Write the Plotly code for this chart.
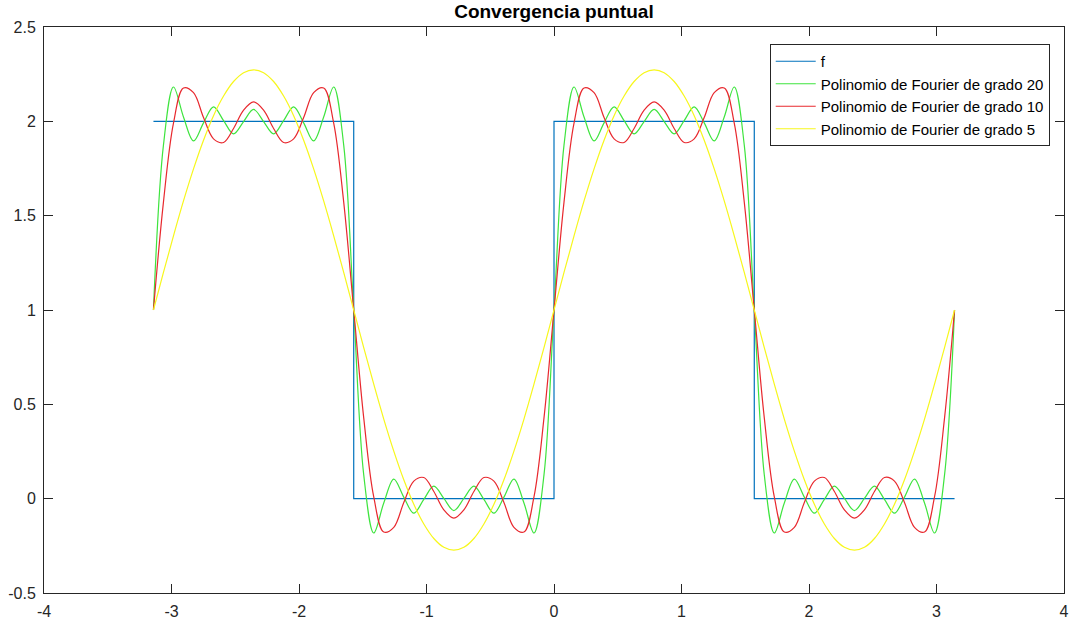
import plotly.graph_objects as go

# Sample positions (x) shared by the Fourier polynomials
x_vals = [-3.1416, -3.0631, -2.9845, -2.9060, -2.8274, -2.7489, -2.6704, -2.5918, -2.5133, -2.4347,
          -2.3562, -2.2777, -2.1991, -2.1206, -2.0420, -1.9635, -1.8850, -1.8064, -1.7279, -1.6493,
          -1.5708, -1.4923, -1.4137, -1.3352, -1.2566, -1.1781, -1.0996, -1.0210, -0.9425, -0.8639,
          -0.7854, -0.7069, -0.6283, -0.5498, -0.4712, -0.3927, -0.3142, -0.2356, -0.1571, -0.0785,
          0.0,
          0.0785, 0.1571, 0.2356, 0.3142, 0.3927, 0.4712, 0.5498, 0.6283, 0.7069, 0.7854,
          0.8639, 0.9425, 1.0210, 1.0996, 1.1781, 1.2566, 1.3352, 1.4137, 1.4923, 1.5708,
          1.6493, 1.7279, 1.8064, 1.8850, 1.9635, 2.0420, 2.1206, 2.1991, 2.2777, 2.3562,
          2.4347, 2.5133, 2.5918, 2.6704, 2.7489, 2.8274, 2.9060, 2.9845, 3.0631, 3.1416]

# f (square wave)
f_x = [-3.1416, -1.5708, -1.5708, 0.0, 0.0, 1.5708, 1.5708, 3.1416]
f_y = [2, 2, 0, 0, 2, 2, 0, 0]

# Fourier polynomial of degree 20
grado20 = [1.0, 1.874, 2.182, 2.023, 1.896, 1.992, 2.077, 2.004, 1.934, 1.999,
           2.063, 1.999, 1.934, 2.004, 2.077, 1.992, 1.896, 2.023, 2.182, 1.874,
           1.0, 0.126, -0.182, -0.023, 0.104, 0.008, -0.077, -0.004, 0.066, 0.001,
           -0.063, 0.001, 0.066, -0.004, -0.077, 0.008, 0.104, -0.023, -0.182, 0.126,
           1.0, 1.874, 2.182, 2.023, 1.896, 1.992, 2.077, 2.004, 1.934, 1.999,
           2.063, 1.999, 1.934, 2.004, 2.077, 1.992, 1.896, 2.023, 2.182, 1.874,
           1.0, 0.126, -0.182, -0.023, 0.104, 0.008, -0.077, -0.004, 0.066, 0.001,
           -0.063, 0.001, 0.066, -0.004, -0.077, 0.008, 0.104, -0.023, -0.182, 0.126,
           1.0]

# Fourier polynomial of degree 10
grado10 = [1.0, 1.572, 1.991, 2.177, 2.152, 2.020, 1.907, 1.888, 1.962, 2.059,
           2.103, 2.059, 1.962, 1.888, 1.907, 2.020, 2.152, 2.177, 1.991, 1.572,
           1.0, 0.428, 0.009, -0.177, -0.152, -0.020, 0.093, 0.112, 0.038, -0.059,
           -0.103, -0.059, 0.038, 0.112, 0.093, -0.020, -0.152, -0.177, 0.009, 0.428,
           1.0, 1.572, 1.991, 2.177, 2.152, 2.020, 1.907, 1.888, 1.962, 2.059,
           2.103, 2.059, 1.962, 1.888, 1.907, 2.020, 2.152, 2.177, 1.991, 1.572,
           1.0, 0.428, 0.009, -0.177, -0.152, -0.020, 0.093, 0.112, 0.038, -0.059,
           -0.103, -0.059, 0.038, 0.112, 0.093, -0.020, -0.152, -0.177, 0.009, 0.428,
           1.0]

# Fourier polynomial of degree 5
grado5 = [1.0, 1.199, 1.393, 1.578, 1.748, 1.900, 2.030, 2.134, 2.211, 2.258,
          2.273, 2.258, 2.211, 2.134, 2.030, 1.900, 1.748, 1.578, 1.393, 1.199,
          1.0, 0.801, 0.607, 0.422, 0.252, 0.100, -0.030, -0.134, -0.211, -0.258,
          -0.273, -0.258, -0.211, -0.134, -0.030, 0.100, 0.252, 0.422, 0.607, 0.801,
          1.0, 1.199, 1.393, 1.578, 1.748, 1.900, 2.030, 2.134, 2.211, 2.258,
          2.273, 2.258, 2.211, 2.134, 2.030, 1.900, 1.748, 1.578, 1.393, 1.199,
          1.0, 0.801, 0.607, 0.422, 0.252, 0.100, -0.030, -0.134, -0.211, -0.258,
          -0.273, -0.258, -0.211, -0.134, -0.030, 0.100, 0.252, 0.422, 0.607, 0.801,
          1.0]

x_ticks = [-4, -3, -2, -1, 0, 1, 2, 3, 4]
y_ticks = [-0.5, 0, 0.5, 1, 1.5, 2, 2.5]

FONT = "Liberation Sans, Arial, Helvetica, sans-serif"

fig = go.Figure()
fig.add_trace(go.Scatter(x=f_x, y=f_y, mode="lines", name="f",
                         line=dict(color="#0072BD", width=1.2)))
fig.add_trace(go.Scatter(x=x_vals, y=grado20, mode="lines", name="Polinomio de Fourier de grado 20",
                         line=dict(color="#3ee43e", width=1.2, shape="spline")))
fig.add_trace(go.Scatter(x=x_vals, y=grado10, mode="lines", name="Polinomio de Fourier de grado 10",
                         line=dict(color="#e8282e", width=1.2, shape="spline")))
fig.add_trace(go.Scatter(x=x_vals, y=grado5, mode="lines", name="Polinomio de Fourier de grado 5",
                         line=dict(color="#f7f71c", width=1.2, shape="spline")))

axis_common = dict(
    showgrid=False, zeroline=False, showline=True, linecolor="#262626", linewidth=1,
    mirror="ticks", ticks="inside", ticklen=9, tickcolor="#262626", tickwidth=1,
    tickfont=dict(family=FONT, size=16, color="#262626"), automargin=False,
)

fig.update_layout(
    width=1076, height=621,
    margin=dict(l=44, r=12, t=27, b=28),
    paper_bgcolor="white", plot_bgcolor="white",
    title=dict(text="<b>Convergencia puntual</b>", x=0.5148, xanchor="center", y=0.993, yanchor="top",
               font=dict(family=FONT, size=19, color="#000000")),
    xaxis=dict(range=[-4, 4], tickvals=x_ticks, ticktext=[str(v) for v in x_ticks],
               ticklabelstandoff=4, **axis_common),
    yaxis=dict(range=[-0.5, 2.5], tickvals=y_ticks, ticktext=[("%g" % v) for v in y_ticks],
               ticklabelstandoff=4, **axis_common),
    legend=dict(x=0.986, xanchor="right", y=0.97, yanchor="top",
                bgcolor="white", bordercolor="#262626", borderwidth=1,
                font=dict(family=FONT, size=15, color="#000000"),
                tracegroupgap=0, itemwidth=40),
    showlegend=True,
)

fig.write_html("out.html")
